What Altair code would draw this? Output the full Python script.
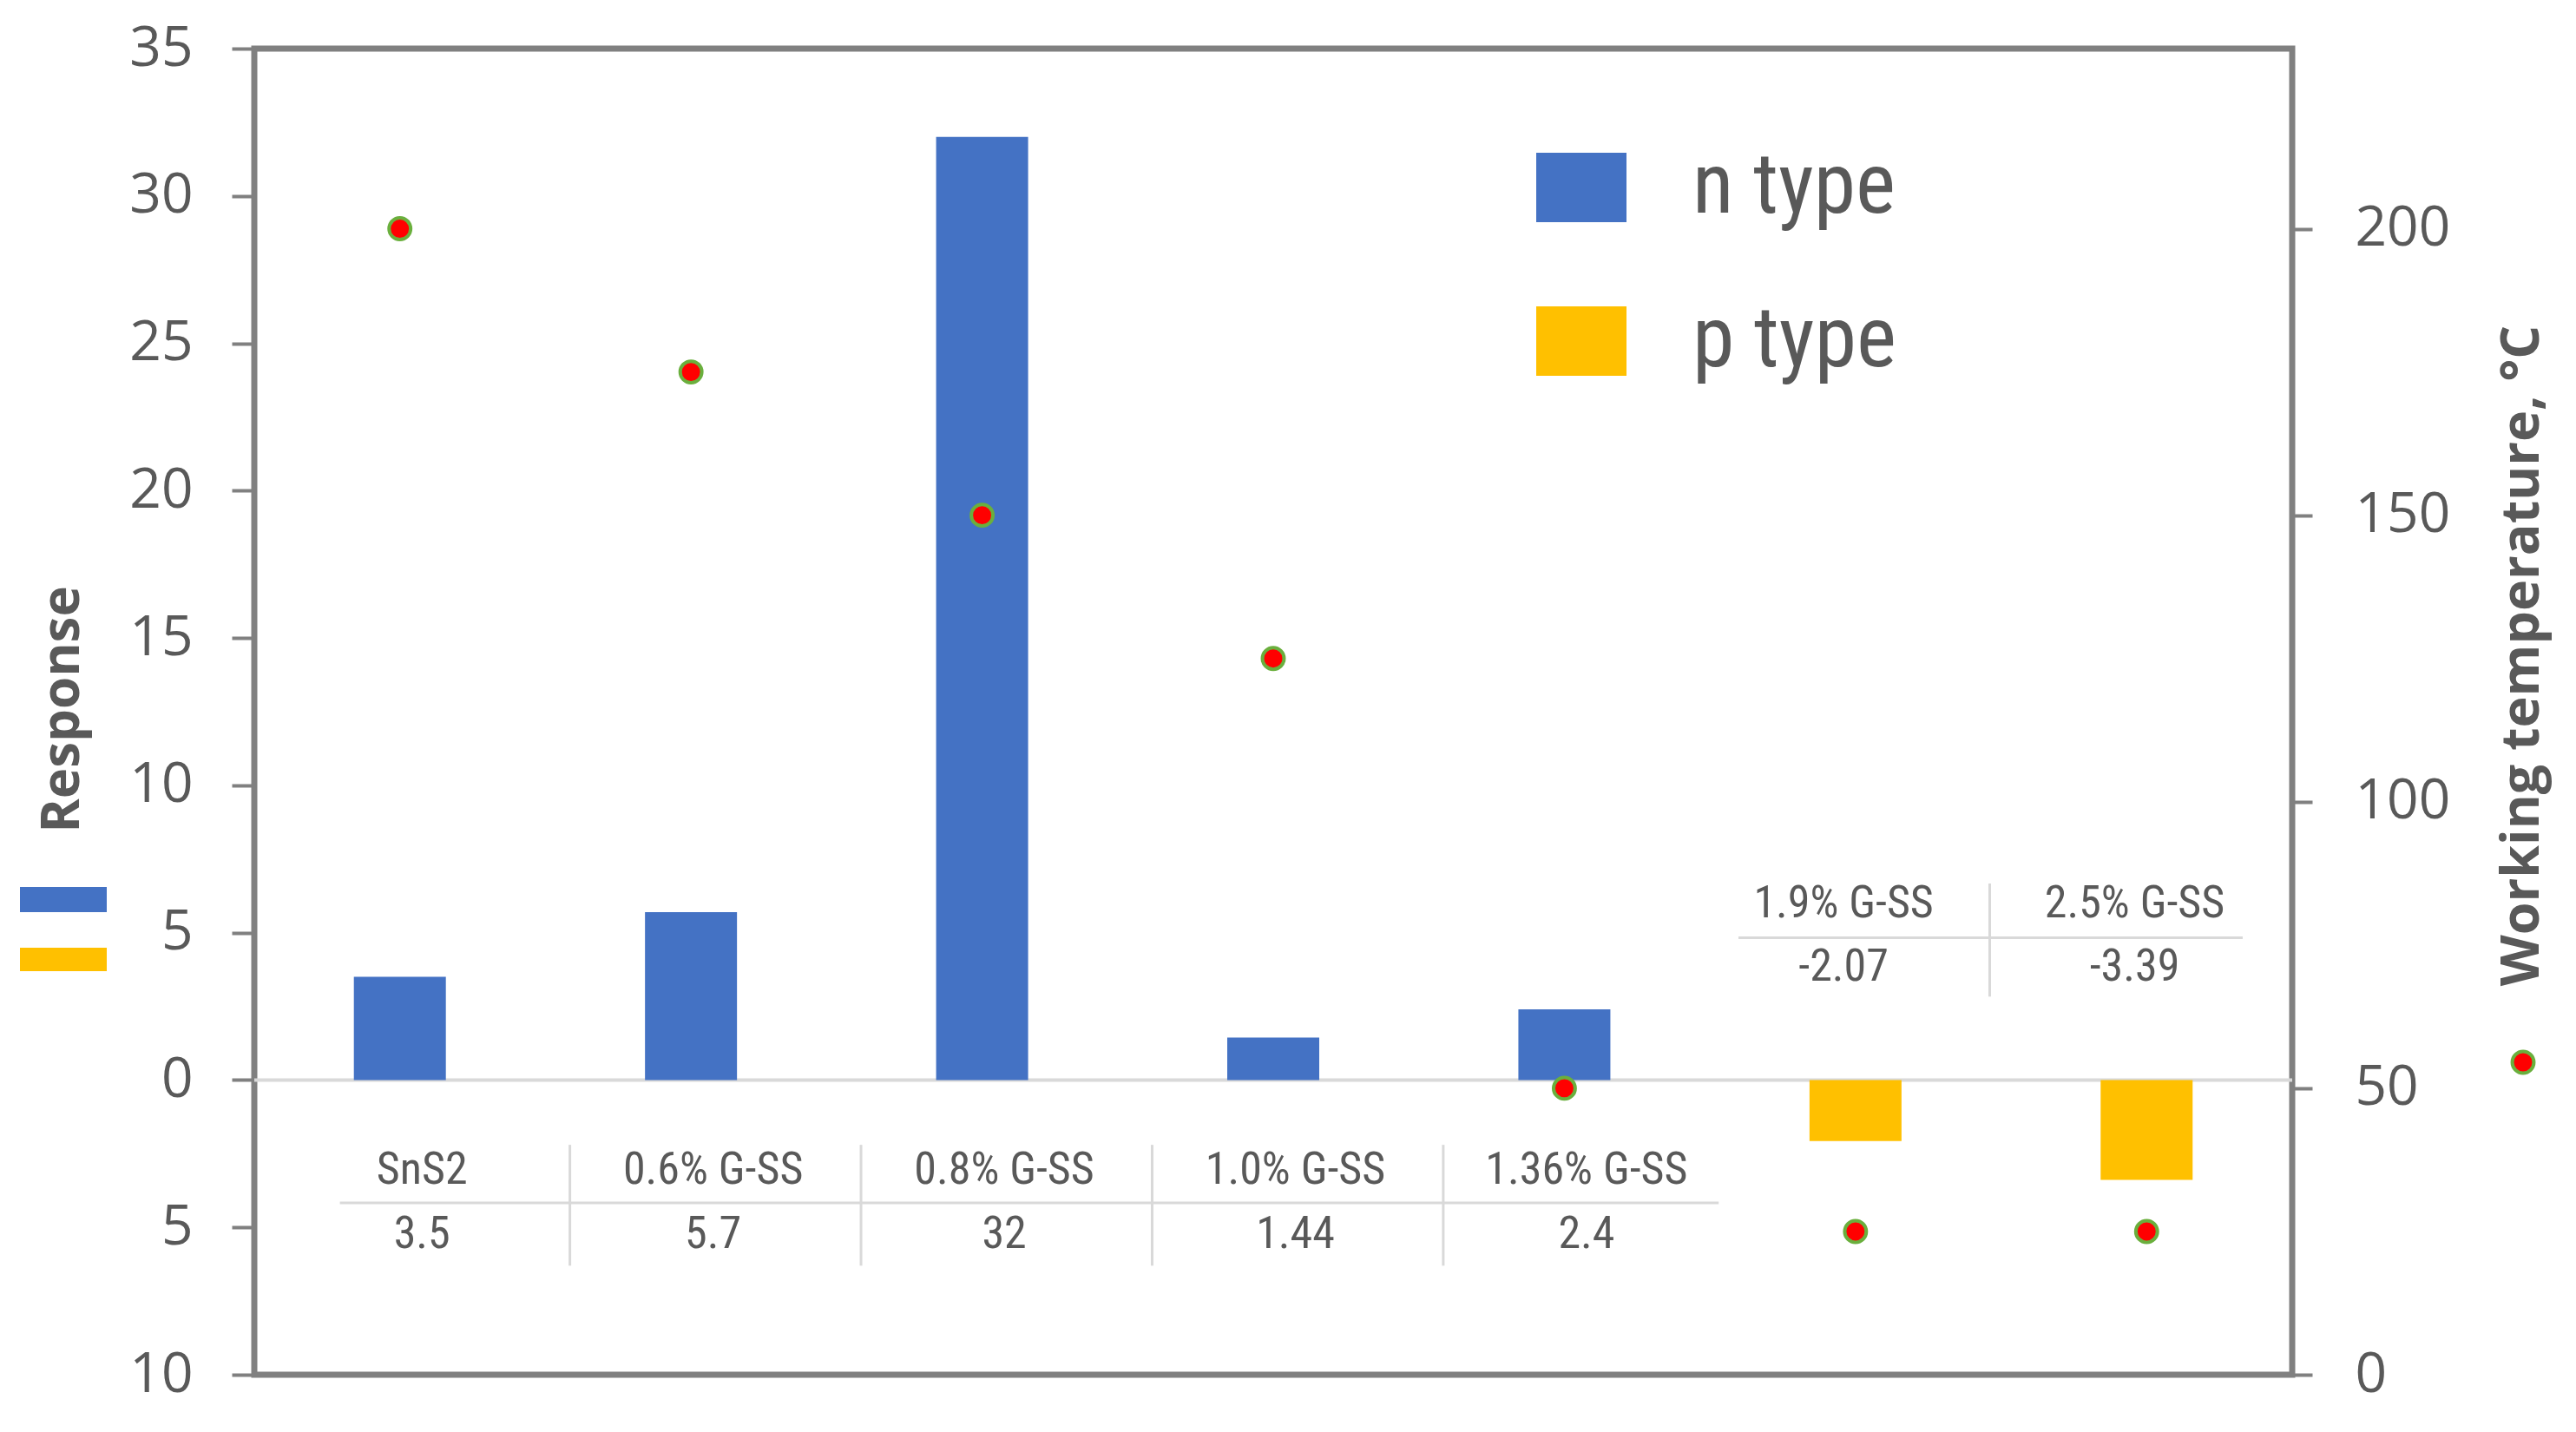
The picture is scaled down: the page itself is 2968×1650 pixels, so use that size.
import altair as alt
import pandas as pd

# ---------------- data ----------------
categories = ["SnS2", "0.6% G-SS", "0.8% G-SS", "1.0% G-SS", "1.36% G-SS", "1.9% G-SS", "2.5% G-SS"]
response = [3.5, 5.7, 32, 1.44, 2.4, -2.07, -3.39]
temperature = [200, 175, 150, 125, 50, 25, 25]
carrier_type = ["n type", "n type", "n type", "n type", "n type", "p type", "p type"]
type_names = ["n type", "p type"]
type_colors = ["#4472C4", "#FFC000"]
left_ticks = [-10, -5, 0, 5, 10, 15, 20, 25, 30, 35]
right_ticks = [0, 50, 100, 150, 200]

df = pd.DataFrame({
    "category": categories,
    "response": response,
    "temperature": temperature,
    "type": carrier_type,
    "label": [f"{v:g}" for v in response],
})
one = pd.DataFrame({"k": [0]})

# ---------------- style ----------------
W, H = 2348, 1528
NARROW = "Liberation Sans Narrow, Roboto Condensed, Lato, sans-serif"
REG = "Open Sans, DejaVu Sans, sans-serif"
TXT = "#595959"
AXC = "#808080"
LINE = "#D9D9D9"
PT_FILL = "#FF0000"
PT_RING = "#6AAF3D"

L_DOMAIN = [-10, 35]
R_DOMAIN = [0, 231.43]


def yl():
    return alt.Scale(domain=L_DOMAIN, nice=False, zero=False)


xs = alt.Scale(domain=categories, paddingInner=0, paddingOuter=0)
base = alt.Chart(df)

left_axis = alt.Axis(
    values=left_ticks, labelExpr="'' + abs(datum.value)", grid=False, domain=False,
    tickColor=AXC, tickSize=26, tickWidth=4, labelFont=REG, labelFontSize=64,
    labelColor=TXT, labelPadding=45, title="Response", titleFont=REG, titleFontSize=60,
    titleFontWeight="bold", titleColor=TXT, titleX=-221, titleY=761, titleAngle=270,
    titleBaseline="middle", titleAlign="center",
)
right_axis = alt.Axis(
    orient="right", values=right_ticks, grid=False, domain=False,
    tickColor=AXC, tickSize=23, tickWidth=4, labelFont=REG, labelFontSize=64,
    labelColor=TXT, labelPadding=49, title="Working temperature, °C", titleFont=REG,
    titleFontSize=61, titleFontWeight="bold", titleColor=TXT, titleX=265, titleY=699,
    titleAngle=270, titleBaseline="middle", titleAlign="center",
)

bars = base.mark_bar(width=alt.RelativeBandSize(0.316)).encode(
    x=alt.X("category:N", scale=xs, axis=None),
    y=alt.Y("response:Q", scale=yl(), axis=left_axis),
    color=alt.Color(
        "type:N", scale=alt.Scale(domain=type_names, range=type_colors),
        legend=alt.Legend(
            title=None, orient="none", legendX=1477, legendY=108,
            symbolType="M-1,-0.77H1V0.77H-1Z", symbolSize=10816, symbolStrokeWidth=0,
            symbolOpacity=1, labelFont=NARROW, labelFontSize=98, labelColor=TXT,
            labelOffset=76, rowPadding=76, labelLimit=600,
        ),
    ),
)

zero_line = alt.Chart(one).mark_rule(color=LINE, strokeWidth=4).encode(
    y=alt.YDatum(0, scale=yl(), axis=None)
)

n_rows = base.transform_filter(alt.datum.type == "n type")
p_rows = base.transform_filter(alt.datum.type == "p type")
tx = dict(font=NARROW, fontSize=52, color=TXT, baseline="middle", align="center")

n_lbl = n_rows.mark_text(**tx).encode(
    x=alt.X("category:N", bandPosition=0.576),
    y=alt.YDatum(-3.05, scale=yl(), axis=None), text="category:N")
n_val = n_rows.mark_text(**tx).encode(
    x=alt.X("category:N", bandPosition=0.576),
    y=alt.YDatum(-5.22, scale=yl(), axis=None), text="label:N")
p_lbl = p_rows.mark_text(**tx).encode(
    x=alt.X("category:N", bandPosition=0.459),
    y=alt.YDatum(6.0, scale=yl(), axis=None), text="category:N")
p_val = p_rows.mark_text(**tx).encode(
    x=alt.X("category:N", bandPosition=0.459),
    y=alt.YDatum(3.83, scale=yl(), axis=None), text="label:N")

n_sep = base.transform_filter(
    alt.FieldOneOfPredicate(field="category", oneOf=categories[1:5])
).mark_rule(color=LINE, strokeWidth=3).encode(
    x=alt.X("category:N", bandPosition=0.084),
    y=alt.YDatum(-2.2, scale=yl(), axis=None), y2=alt.Y2Datum(-6.3))
n_hline = alt.Chart(one).mark_rule(color=LINE, strokeWidth=3).encode(
    x=alt.XDatum(categories[0], bandPosition=0.294, type="nominal"),
    x2=alt.X2Datum(categories[5], bandPosition=0.03),
    y=alt.YDatum(-4.17, scale=yl(), axis=None))
p_sep = alt.Chart(one).mark_rule(color=LINE, strokeWidth=3).encode(
    x=alt.XDatum(categories[5], bandPosition=0.961, type="nominal"),
    y=alt.YDatum(2.83, scale=yl(), axis=None), y2=alt.Y2Datum(6.67))
p_hline = alt.Chart(one).mark_rule(color=LINE, strokeWidth=3).encode(
    x=alt.XDatum(categories[5], bandPosition=0.098, type="nominal"),
    x2=alt.X2Datum(categories[6], bandPosition=0.83),
    y=alt.YDatum(4.83, scale=yl(), axis=None))

# axis-title keys (Excel style)
key_n = alt.Chart(one).mark_rect(color=type_colors[0]).encode(
    x=alt.value(-270), x2=alt.value(-170), y=alt.value(966), y2=alt.value(995))
key_p = alt.Chart(one).mark_rect(color=type_colors[1]).encode(
    x=alt.value(-270), x2=alt.value(-170), y=alt.value(1036), y2=alt.value(1063))
key_t = alt.Chart(one).mark_circle(color=PT_FILL, stroke=PT_RING, strokeWidth=4,
                                   size=620, opacity=1).encode(
    x=alt.value(2614), y=alt.value(1168))

points = base.mark_circle(color=PT_FILL, stroke=PT_RING, strokeWidth=4,
                          size=620, opacity=1).encode(
    x=alt.X("category:N"),
    y=alt.Y("temperature:Q", scale=alt.Scale(domain=R_DOMAIN, nice=False, zero=False),
            axis=right_axis),
)

chart = alt.layer(
    zero_line, bars, n_hline, n_sep, p_hline, p_sep,
    n_lbl, n_val, p_lbl, p_val, key_n, key_p, key_t, points
).resolve_scale(y="independent").properties(
    width=W, height=H,
    background="white",
    autosize=alt.AutoSizeParams(type="none"),
    padding={"left": 285, "top": 48, "right": 319, "bottom": 58},
).configure_view(stroke=AXC, strokeWidth=7)

chart.save("out.html", embed_options={"renderer": "svg", "actions": False})
